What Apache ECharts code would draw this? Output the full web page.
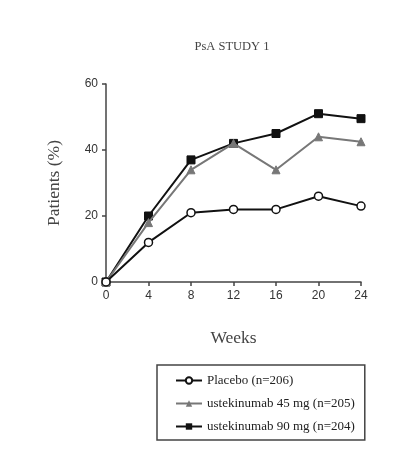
<!DOCTYPE html>
<html lang="en">
<head>
    <meta charset="UTF-8">
    <title>PsA STUDY 1</title>
    <script src="https://cdn.jsdelivr.net/npm/echarts@6/dist/echarts.min.js"></script>
</head>
<body style="margin:0;background:#fff">
<div id="main" style="width: 400px;height:468px;"></div>

<script type="text/javascript">
    // weeks on the x axis
    var weeks = [0, 4, 8, 12, 16, 20, 24];
    var placebo = [0, 12, 21, 22, 22, 26, 23];
    var uste45 = [0, 18, 34, 42, 34, 44, 42.5];
    var uste90 = [0, 20, 37, 42, 45, 51, 49.5];
    var names = ['Placebo (n=206)', 'ustekinumab 45 mg (n=205)', 'ustekinumab 90 mg (n=204)'];

    function pairs(vals) {
        return weeks.map(function (w, i) { return [w, vals[i]]; });
    }

    var myChart = echarts.init(document.getElementById('main'));

    var serif = '"Liberation Serif", "DejaVu Serif", serif';
    var sans = '"Liberation Sans", Arial, sans-serif';

    option = {
        animation: false,
        title: {
            text: 'PsA STUDY 1',
            left: 227,
            top: 35,
            textAlign: 'center',
            textStyle: { fontFamily: serif, fontSize: 12.5, fontWeight: 'normal', color: '#444' }
        },
        legend: {
            orient: 'vertical',
            left: 157,
            top: 365,
            data: names,
            itemWidth: 26,
            itemHeight: 8,
            itemGap: 10,
            padding: [9, 10, 7, 18],
            borderColor: '#444',
            borderWidth: 1.5,
            borderRadius: 0,
            textStyle: { fontFamily: serif, fontSize: 13, color: '#222' }
        },
        grid: { left: 106, right: 39, top: 84, bottom: 186 },
        xAxis: {
            type: 'value',
            min: 0,
            max: 24,
            interval: 4,
            name: 'Weeks',
            nameLocation: 'middle',
            nameGap: 47,
            nameTextStyle: { fontFamily: serif, fontSize: 17.5, color: '#444' },
            axisLine: { lineStyle: { color: '#444', width: 1.5 } },
            axisTick: { length: 4, lineStyle: { color: '#444', width: 1.5 } },
            axisLabel: { fontFamily: sans, fontSize: 12, color: '#333', margin: 8 },
            splitLine: { show: false }
        },
        yAxis: {
            type: 'value',
            min: 0,
            max: 60,
            interval: 20,
            name: 'Patients (%)',
            nameLocation: 'middle',
            nameGap: 43,
            nameTextStyle: { fontFamily: serif, fontSize: 17.5, color: '#444' },
            axisLine: { show: true, lineStyle: { color: '#444', width: 1.5 } },
            axisTick: { show: true, length: 4, lineStyle: { color: '#444', width: 1.5 } },
            axisLabel: { fontFamily: sans, fontSize: 12, color: '#333', margin: 8 },
            splitLine: { show: false }
        },
        series: [
            {
                name: names[2],
                type: 'line',
                data: pairs(uste90),
                symbol: 'rect',
                symbolSize: 8,
                z: 2,
                itemStyle: { color: '#111', borderColor: '#111' },
                lineStyle: { color: '#111', width: 2 }
            },
            {
                name: names[1],
                type: 'line',
                data: pairs(uste45),
                symbol: 'triangle',
                symbolSize: 8,
                z: 3,
                itemStyle: { color: '#777', borderColor: '#777' },
                lineStyle: { color: '#777', width: 2 }
            },
            {
                name: names[0],
                type: 'line',
                data: pairs(placebo),
                symbol: 'circle',
                symbolSize: 8,
                z: 4,
                itemStyle: { color: '#fff', borderColor: '#111', borderWidth: 1.5 },
                lineStyle: { color: '#111', width: 2 }
            }
        ]
    };

    myChart.setOption(option);
</script>
</body>
</html>
